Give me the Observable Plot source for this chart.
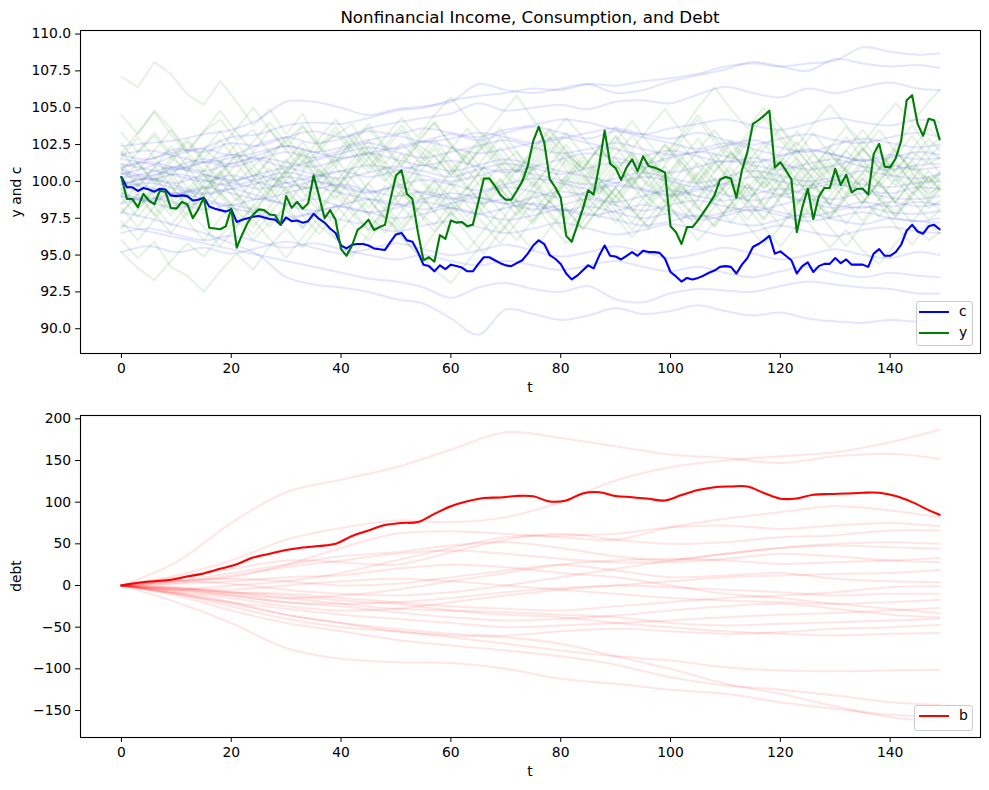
<!DOCTYPE html>
<html><head><meta charset="utf-8">
<script src="https://cdn.jsdelivr.net/npm/d3@7"></script>
<script src="https://cdn.jsdelivr.net/npm/@observablehq/plot@0.6"></script>
<style>
body{margin:0;background:#fff;}
#wrap{position:relative;width:989px;height:790px;overflow:hidden;background:#fff;font-family:"DejaVu Sans",sans-serif;color:#000;}
.t{position:absolute;white-space:nowrap;line-height:1;transform:translate(-50%,-50%);}
.rot{transform:translate(-50%,-50%) rotate(-90deg);}
.lbox{position:absolute;border:1px solid #cccccc;border-radius:3px;background:rgba(255,255,255,0.8);box-sizing:border-box;}
.lline{position:absolute;height:2px;width:29.5px;}
.ltxt{position:absolute;font-size:13.9px;line-height:1;transform:translateY(-50%);}
</style></head>
<body><div id="wrap"></div>
<script>
// ---------- tick labels ----------
const xTicks = [0, 20, 40, 60, 80, 100, 120, 140];
const ycTicks = [90, 92.5, 95, 97.5, 100, 102.5, 105, 107.5, 110];
const debtTicks = [-150, -100, -50, 0, 50, 100, 150, 200];

// ---------- highlighted path (t = 0..149) ----------
const cMain = [
100.3,99.6,99.6,99.35,99.55,99.45,99.3,99.5,99.45,99.05,
99.0,99.05,99.0,98.7,98.75,98.9,98.3,98.15,98.05,97.95,
98.1,97.25,97.4,97.5,97.6,97.65,97.55,97.45,97.4,97.05,
97.55,97.3,97.35,97.2,97.3,97.8,97.45,97.2,96.8,96.5,
95.65,95.45,95.7,95.75,95.75,95.65,95.45,95.4,95.35,95.9,
96.4,96.5,96.0,95.9,95.2,94.35,94.25,93.9,94.3,94.05,
94.35,94.25,94.15,93.9,93.9,94.4,94.85,94.85,94.65,94.45,
94.3,94.25,94.45,94.65,95.1,95.65,96.0,95.75,95.0,94.75,
94.4,93.75,93.35,93.6,93.95,94.3,94.1,94.95,95.65,94.95,
94.9,94.7,94.95,95.2,94.95,95.3,95.2,95.2,95.15,94.75,
93.85,93.55,93.2,93.45,93.35,93.45,93.6,93.8,93.95,94.2,
94.25,94.2,93.75,94.35,94.8,95.55,95.75,96.0,96.3,95.1,
95.25,94.95,94.65,93.75,94.25,94.5,93.85,94.25,94.4,94.4,
94.8,94.45,94.7,94.35,94.35,94.35,94.2,95.1,95.4,94.95,
94.95,95.2,95.7,96.65,97.05,96.6,96.45,96.95,97.05,96.75];

const yMain = [
100.3,98.8,98.8,98.25,99.15,98.7,98.45,99.35,99.3,98.2,
98.15,98.6,98.45,97.5,98.1,98.9,96.85,96.8,96.75,96.95,
98.15,95.5,96.4,97.2,97.75,98.1,98.05,97.75,97.7,97.05,
99.0,98.2,98.6,98.15,98.5,100.4,99.0,97.5,98.05,97.4,
95.4,94.95,95.65,96.7,97.0,97.4,96.7,96.9,97.05,98.8,
100.4,100.75,99.15,98.8,96.55,94.65,94.85,94.55,96.35,96.1,
97.35,97.2,97.25,96.95,97.05,98.6,100.2,100.2,99.7,99.1,
98.75,98.75,99.35,100.0,101.05,102.75,103.7,102.65,100.15,99.6,
98.9,96.3,95.9,97.0,98.1,99.4,99.1,101.05,103.45,101.2,
100.9,100.1,100.95,101.5,100.7,101.7,101.05,100.95,100.8,100.6,
96.95,96.55,95.75,96.9,96.9,97.35,97.9,98.45,99.05,100.1,
100.3,100.2,98.9,100.75,102.0,103.9,104.15,104.45,104.8,100.95,
101.3,100.75,100.15,96.55,98.25,99.5,97.45,98.95,99.55,99.55,
100.85,99.75,100.45,99.25,99.5,99.5,99.1,101.85,102.55,101.0,
100.95,101.55,102.75,105.5,105.85,103.9,103.1,104.25,104.15,102.85];

// debt of highlighted path, read every 3 periods (t = 0,3,...,147,149)
const bMain = [
0,3.3,5.2,6.8,10.8,14.5,20,25.6,33.5,38.2,
42.5,45.5,47.3,50,59.5,66,72.5,75,76.2,86,
95,101,105,105.6,107.5,107,100.8,102,110.5,112,
107.5,106,104,102,108.5,114.5,118,118.8,118.8,111,
104.2,104.5,108.8,109.8,110.4,111.3,111.2,107.3,100,90.5,
84.8];

// ---------- other simulated paths ----------
// consumption paths, read every 5 periods (t = 0,5,...,145,149)
const cPaths = [
[101.0,101.5,102.0,102.3,103.0,103.2,103.8,104.0,103.9,104.3,104.8,105.0,105.5,105.8,106.0,106.3,106.2,106.6,106.5,106.8,107.0,107.3,107.8,108.0,107.8,108.0,108.2,109.1,108.8,108.6,108.7],
[102.4,102.6,102.8,103.2,103.5,104.2,105.4,105.4,105.0,104.5,104.9,105.1,105.4,106.6,106.2,106.0,106.3,106.6,106.0,106.2,106.8,107.2,107.6,108.1,107.8,107.5,108.3,108.0,107.8,107.9,107.7],
[101.8,101.5,102.2,102.0,102.6,102.4,103.0,103.4,103.0,103.6,104.0,104.3,104.6,105.3,104.8,105.0,105.2,104.9,105.4,105.5,105.3,105.9,106.4,106.0,105.7,106.3,106.0,106.4,106.7,106.3,106.2],
[100.5,101.0,101.8,102.2,101.8,102.5,103.0,102.6,102.9,103.4,103.2,103.6,103.3,103.0,103.5,103.8,104.2,104.0,103.5,103.2,103.6,103.9,104.2,103.8,103.5,103.9,104.3,104.0,103.8,104.2,104.0],
[100.8,100.4,101.0,101.5,101.2,101.8,102.4,102.0,102.3,102.8,103.1,102.7,102.9,103.3,103.0,102.6,102.9,103.3,103.6,103.2,102.9,103.3,102.8,102.5,102.9,103.2,102.8,102.6,103.0,103.3,103.0],
[101.5,101.2,100.8,101.3,101.8,101.5,101.0,101.4,101.9,102.3,102.0,101.6,102.0,102.4,102.8,102.3,101.9,102.2,102.6,102.2,101.8,102.0,102.4,102.8,102.3,102.0,102.5,102.9,102.6,102.3,102.5],
[100.2,100.6,101.0,100.7,101.2,101.6,101.3,101.0,101.5,101.9,101.5,101.1,101.4,101.0,100.6,101.0,101.5,101.9,101.6,101.2,101.6,102.0,101.7,101.3,101.7,102.1,101.8,101.4,101.6,102.0,101.8],
[99.8,100.2,99.9,100.4,100.0,100.5,100.9,100.5,100.2,100.6,101.0,100.7,100.3,100.8,101.2,100.9,100.5,100.9,101.3,101.0,100.6,101.0,101.4,101.1,100.8,101.2,101.5,101.0,100.8,101.1,101.2],
[100.5,100.1,100.5,100.1,99.7,100.2,100.6,100.3,100.7,101.1,100.8,100.4,100.0,100.4,100.8,100.5,100.1,99.8,100.2,100.6,100.2,99.9,100.3,100.7,100.4,100.0,100.3,100.7,100.4,100.2,100.5],
[101.2,100.8,100.4,100.0,100.4,99.9,99.6,100.0,99.7,99.3,99.7,100.1,99.8,99.4,99.8,100.2,99.9,99.5,99.9,100.3,100.0,99.6,99.9,100.3,100.0,99.7,100.1,99.8,99.6,99.9,100.0],
[99.5,99.9,99.5,99.1,99.5,99.9,100.3,100.0,99.6,99.2,99.6,99.2,98.8,99.2,99.6,99.3,98.9,99.3,99.7,99.4,99.0,99.4,99.8,99.5,99.1,99.5,99.8,99.4,99.2,99.6,99.5],
[100.0,99.6,99.2,99.6,99.2,98.8,99.2,99.6,99.2,98.8,98.4,98.8,99.2,98.9,98.5,98.9,99.3,99.0,98.6,99.0,99.4,99.0,98.7,99.1,99.5,99.1,98.8,99.2,98.9,98.8,99.0],
[99.2,98.8,99.2,98.8,98.4,98.8,98.4,98.0,98.4,98.8,98.5,98.1,98.5,98.9,98.5,98.1,98.4,98.8,98.4,98.0,98.4,98.7,98.3,98.0,98.4,98.8,98.4,98.2,98.6,98.3,98.5],
[100.6,100.2,99.7,99.2,99.5,99.0,98.5,98.8,98.3,97.9,98.2,98.6,98.2,97.8,98.2,98.5,98.1,97.7,98.0,98.4,98.0,97.6,97.9,98.3,97.9,97.6,98.0,98.3,97.9,97.8,98.0],
[98.5,98.9,98.5,98.1,98.4,98.0,97.6,97.9,98.3,97.9,97.5,97.8,98.2,97.8,97.4,97.7,98.1,97.8,97.4,97.0,97.3,97.7,97.3,97.0,97.4,97.8,97.4,97.1,97.5,97.3,97.5],
[99.0,98.6,98.2,98.6,98.2,97.8,97.4,97.8,97.4,97.0,96.6,97.0,97.3,96.9,96.5,96.8,97.2,96.8,96.4,96.7,97.1,96.7,96.3,96.6,97.0,96.6,96.3,96.7,96.9,96.6,96.5],
[95.2,95.6,95.2,95.5,95.1,95.5,95.9,95.5,95.1,95.4,95.8,95.4,95.0,95.3,95.7,95.3,94.9,95.2,95.6,95.2,94.8,95.1,95.5,95.1,94.7,95.0,95.4,95.0,94.8,95.2,95.0],
[97.9,97.5,97.0,96.5,95.8,95.0,93.5,93.0,92.8,92.5,92.0,91.7,90.7,89.6,91.3,91.0,90.6,90.9,91.4,91.0,91.2,91.6,91.2,90.9,91.1,90.7,90.5,90.4,90.6,90.5,90.8],
[97.0,96.6,96.2,95.8,95.4,95.0,94.6,94.2,93.8,93.4,93.2,92.8,92.1,92.8,93.1,92.7,92.5,92.9,92.0,91.8,92.4,92.7,92.6,92.5,92.9,93.2,93.0,92.8,92.7,92.4,92.4],
[96.5,96.8,96.4,96.0,96.3,95.9,95.5,95.8,95.4,95.0,94.7,95.0,94.6,94.3,94.6,94.3,94.0,94.3,94.6,94.2,93.9,94.2,93.8,93.5,93.9,94.2,93.8,93.5,93.8,93.6,93.5],
[101.8,102.1,101.7,101.3,101.6,102.0,102.4,102.0,101.6,101.9,102.3,102.7,102.3,101.9,102.2,102.6,103.0,102.6,102.2,101.8,102.1,101.7,101.3,101.6,101.2,100.8,101.1,101.5,101.1,100.8,101.0],
[100.9,101.3,100.9,100.5,100.1,100.4,99.9,99.5,99.8,99.4,99.0,99.3,98.9,98.5,98.8,98.4,98.0,98.3,97.9,97.5,97.8,97.4,97.7,98.1,97.7,97.3,97.6,97.9,97.5,97.3,97.2],
[99.8,100.3,100.8,101.3,101.0,101.5,102.0,101.6,102.1,102.6,102.2,102.7,103.2,102.8,103.3,103.7,103.3,102.9,103.4,103.0,102.6,102.2,102.6,102.2,101.8,102.2,101.8,101.4,101.8,101.5,101.6],
[99.0,98.7,99.1,99.5,99.9,99.5,99.9,100.3,100.7,100.3,100.7,101.1,100.7,101.1,101.5,101.1,100.7,100.3,99.9,99.5,99.1,99.5,99.1,98.7,99.0,98.6,98.2,98.6,98.3,98.6,98.4]
];

// income paths, read every 3 periods (t = 0,3,...,147,149)
const yPaths = [
[107.1,106.4,108.1,107.3,105.9,105.2,106.8,105.4,103.8,104.9,103.2,104.6,102.5,103.1,103.9,102.0,101.2,102.6,101.4,100.8,102.3,101.6,99.9,101.1,102.0,100.4,99.8,101.5,100.6,99.2,100.9,101.8,100.2,101.0,99.5,98.9,100.7,101.9,100.8,99.6,100.4,101.6,100.1,99.3,100.9,102.2,101.0,100.3,101.4,100.0,100.5],
[104.5,103.2,104.8,103.6,102.1,103.4,104.2,102.8,103.5,101.9,102.7,103.8,102.4,101.3,102.9,103.6,102.2,101.0,102.5,101.7,100.4,101.8,102.9,101.5,100.6,101.9,103.0,101.8,100.9,102.3,101.1,99.8,101.2,102.5,101.3,100.0,101.6,102.8,101.4,100.2,101.7,100.6,99.4,100.9,102.1,101.0,99.7,100.8,102.0,101.2,101.6],
[103.3,102.0,103.1,101.6,100.7,102.2,101.3,99.9,101.0,102.1,100.5,99.4,100.8,99.6,98.5,99.9,101.0,99.7,98.8,100.1,98.9,97.6,99.0,100.2,98.7,97.9,99.3,100.4,99.2,98.1,99.6,100.9,99.8,98.6,100.0,101.3,100.1,98.9,100.3,101.5,100.4,99.1,100.6,101.9,100.7,99.5,100.8,102.0,100.9,99.8,100.4],
[96.0,94.8,95.9,94.2,93.6,92.5,93.9,95.1,94.0,95.6,96.8,95.5,97.0,96.1,97.6,98.8,97.5,96.6,98.1,99.2,97.9,96.8,98.3,99.5,98.2,97.1,98.7,99.9,98.6,97.5,99.0,100.3,98.9,97.8,99.4,100.6,99.2,98.0,99.5,100.8,99.6,98.3,99.8,101.0,99.7,98.5,100.0,101.2,99.9,98.8,99.5],
[95.2,94.1,93.3,94.6,95.8,94.9,96.3,97.4,96.0,97.2,98.3,96.9,98.0,99.1,97.8,96.7,98.2,99.4,98.0,97.0,98.5,99.6,98.3,97.2,98.8,100.0,98.6,97.5,99.1,100.2,99.0,97.9,99.3,100.5,99.2,98.1,99.7,100.9,99.4,98.2,99.8,101.0,99.6,98.4,99.9,101.1,99.8,98.6,100.1,99.2,99.6],
[101.2,99.8,100.9,102.4,101.0,99.5,100.6,101.9,100.3,101.5,103.0,101.6,100.1,101.3,102.7,101.2,100.0,101.4,102.8,104.0,102.5,101.1,102.4,103.6,102.0,100.7,101.9,103.3,101.8,100.5,101.8,103.1,101.6,100.2,101.5,102.9,101.4,100.1,101.3,102.6,101.0,99.7,101.0,102.3,100.8,99.5,100.9,102.2,100.6,99.4,100.2],
[99.4,98.1,99.5,100.6,99.0,97.8,99.2,98.0,96.9,98.3,99.6,98.2,97.0,98.4,97.1,96.0,97.5,96.2,95.1,94.0,93.1,94.5,95.9,97.2,96.0,97.4,98.7,97.3,98.6,99.8,98.4,97.2,98.7,99.9,98.5,97.3,98.8,100.0,98.6,97.4,98.9,100.1,98.7,97.5,99.0,100.2,98.8,97.6,99.1,100.3,99.4],
[98.5,99.8,98.3,97.0,98.4,99.7,98.2,96.9,98.3,99.6,98.0,96.8,98.2,99.5,98.1,96.7,98.0,99.3,97.9,96.6,97.9,99.2,97.8,96.5,97.8,99.1,97.7,96.4,97.7,99.0,97.6,96.2,97.5,98.8,97.3,96.0,97.2,98.5,97.0,95.7,96.9,98.2,96.8,95.5,96.7,95.3,94.4,95.8,97.1,96.0,96.5],
[100.0,101.3,100.0,101.6,102.9,101.5,102.8,101.4,102.7,104.0,102.6,101.3,102.9,104.2,102.8,101.6,103.0,104.3,103.0,104.5,105.7,104.3,103.0,104.5,105.8,104.2,102.9,104.3,103.0,101.7,103.1,101.8,100.5,101.9,103.2,101.8,100.6,102.0,100.7,99.5,100.9,102.2,100.8,99.6,101.0,102.3,100.9,99.7,101.1,100.0,100.6],
[99.6,98.3,99.7,101.0,99.6,98.4,99.9,101.2,99.8,98.6,100.1,101.4,100.0,98.8,100.3,101.6,100.2,99.0,100.5,101.8,100.4,101.9,103.2,101.8,100.6,102.1,103.4,102.0,100.8,102.3,103.7,102.2,103.6,104.9,103.4,105.0,106.4,104.9,103.6,105.0,103.7,102.4,103.9,105.2,103.8,102.6,104.0,105.3,104.0,105.4,106.2],
[97.8,99.1,100.3,98.9,97.7,99.2,100.5,99.1,97.8,99.3,100.6,102.0,100.6,99.3,100.8,102.1,100.7,99.4,100.9,102.2,100.8,99.5,101.0,102.3,100.9,99.6,101.1,102.5,101.0,99.7,98.4,99.8,101.2,99.8,98.5,100.0,101.3,99.9,98.6,100.1,101.5,100.1,98.8,97.5,98.9,100.2,98.8,97.6,99.0,100.3,99.5],
[102.6,101.2,99.9,101.3,102.7,101.3,100.0,98.7,100.1,101.5,100.0,98.7,100.2,101.6,100.1,98.8,97.5,98.9,100.3,98.9,97.6,99.0,100.4,99.0,97.7,99.1,100.5,101.9,100.4,99.1,100.6,102.0,100.5,99.2,100.7,102.1,103.5,102.0,100.7,102.2,103.6,102.1,100.8,102.3,103.7,102.2,100.9,102.4,103.8,102.3,102.9],
[100.7,102.0,103.3,101.9,100.6,102.1,103.4,102.0,100.7,99.4,100.8,102.2,100.8,99.5,101.0,102.4,100.9,99.6,101.1,102.5,101.0,99.7,98.4,99.8,101.2,99.8,98.5,100.0,101.4,99.9,98.6,100.1,101.5,100.0,98.7,97.4,98.8,100.2,98.8,97.5,99.0,100.4,99.0,97.7,99.2,100.6,99.1,97.8,99.3,98.2,98.7],
[98.9,97.6,98.9,100.2,98.8,100.1,101.4,100.0,98.7,100.2,101.5,100.1,98.8,100.3,99.0,97.7,99.2,100.6,99.2,97.9,99.4,100.8,99.3,98.0,99.5,100.9,99.4,98.1,96.8,98.2,99.6,98.1,96.9,98.4,99.8,98.3,97.0,98.5,99.9,98.4,99.9,101.3,99.8,98.5,100.0,101.4,99.9,98.6,100.1,101.5,100.6],
[101.6,103.0,101.6,100.3,101.7,100.4,99.1,100.5,101.9,100.5,99.2,100.6,102.0,103.4,101.9,100.6,102.1,103.5,102.0,100.7,102.2,103.6,102.1,100.8,99.5,100.9,102.3,100.8,99.5,101.0,102.4,100.9,99.6,101.1,102.5,101.0,99.7,101.2,102.6,101.1,99.8,98.5,99.9,101.3,99.8,98.5,100.0,101.4,99.9,98.6,99.4],
[97.3,96.0,97.4,98.8,97.3,96.0,97.5,98.9,97.4,96.1,94.8,96.2,97.6,96.1,94.9,96.4,97.8,96.3,95.0,96.5,97.9,96.4,95.1,96.6,98.0,99.4,97.9,96.6,98.1,99.5,98.0,96.7,98.2,99.6,98.1,96.8,98.3,99.7,98.2,96.9,95.6,97.0,98.4,96.9,95.6,97.1,98.5,97.0,95.7,97.2,96.5],
[100.3,99.0,97.7,99.1,100.5,99.0,100.4,101.8,100.3,99.0,100.5,101.9,100.4,101.8,103.2,101.7,100.4,101.9,100.5,99.2,100.7,102.1,100.6,99.3,100.8,102.2,103.6,102.1,100.8,102.3,100.9,99.6,101.1,102.5,101.0,99.7,101.2,102.6,101.1,99.8,101.3,102.7,101.2,99.9,101.4,102.8,101.3,100.0,101.5,102.9,102.1],
[96.8,98.1,99.4,98.0,99.4,100.8,99.3,98.0,99.5,100.9,99.4,98.1,99.6,101.0,99.5,98.2,99.7,98.3,97.0,98.5,99.9,98.4,97.1,95.8,97.2,98.6,97.1,95.8,97.3,98.7,97.2,98.7,100.1,98.6,97.3,98.8,100.2,98.7,97.4,98.9,100.3,98.8,97.5,99.0,100.4,98.9,97.6,99.1,100.5,99.0,99.8],
[102.0,100.7,102.1,103.5,102.0,100.7,102.2,103.6,105.0,103.5,102.2,103.7,102.3,101.0,102.5,103.9,102.4,101.1,102.6,104.0,102.5,101.2,102.7,101.3,100.0,101.5,102.9,101.4,100.1,101.6,103.0,101.5,100.2,101.7,103.1,104.5,103.0,101.7,103.2,104.6,103.1,101.8,103.3,101.9,100.6,102.1,103.5,102.0,100.7,102.2,101.5],
[99.1,100.4,99.0,97.7,99.1,100.5,99.0,97.7,96.4,97.8,99.2,97.7,96.4,97.9,99.3,97.8,96.5,98.0,99.4,97.9,96.6,95.3,96.7,98.1,96.6,95.3,96.8,98.2,96.7,98.2,99.6,98.1,96.8,98.3,99.7,98.2,96.9,98.4,99.8,98.3,97.0,98.5,99.9,98.4,97.1,98.6,100.0,98.5,97.2,98.7,98.1],
[101.9,103.3,104.7,103.2,101.9,103.4,104.8,103.3,102.0,103.5,102.1,100.8,102.3,103.7,102.2,100.9,102.4,103.8,102.3,101.0,99.7,101.1,102.5,101.0,99.7,101.2,102.6,101.1,99.8,101.3,102.7,104.1,102.6,101.3,102.8,104.2,102.7,101.4,102.9,104.3,102.8,101.5,100.2,101.6,103.0,101.5,100.2,101.7,103.1,101.6,102.4],
[97.9,99.2,97.8,96.5,97.9,99.3,100.7,99.2,97.9,99.4,100.8,99.3,98.0,99.5,100.9,99.4,98.1,96.8,98.2,99.6,98.1,99.6,101.0,99.5,98.2,99.7,101.1,99.6,98.3,99.8,101.2,99.7,98.4,99.9,101.3,99.8,98.5,97.2,98.6,100.0,98.5,97.2,98.7,100.1,98.6,97.3,98.8,100.2,98.7,97.4,98.0],
[100.9,99.6,101.0,99.7,98.4,99.8,101.2,102.6,101.1,99.8,101.3,102.7,101.2,99.9,101.4,102.8,101.3,100.0,101.5,102.9,101.4,100.1,101.6,103.0,101.5,100.2,98.9,100.3,101.7,100.2,98.9,100.4,101.8,100.3,99.0,100.5,101.9,100.4,99.1,100.6,102.0,103.4,101.9,100.6,102.1,103.5,102.0,100.7,102.2,103.6,103.0],
[98.2,96.9,98.3,99.7,98.2,96.9,95.6,97.0,98.4,96.9,98.4,99.8,98.3,97.0,98.5,99.9,98.4,97.1,98.6,100.0,98.5,97.2,98.7,100.1,98.6,97.3,98.8,100.2,98.7,100.2,101.6,100.1,98.8,100.3,101.7,100.2,98.9,100.4,101.8,100.3,99.0,100.5,101.9,100.4,99.1,100.6,102.0,100.5,99.2,100.7,100.0]
];

// debt paths, read every 10 periods (t = 0,10,...,140,149)
const bPaths = [
[0,28,75,112,127,142,163,184,177,167,157,153,147,155,158,152],
[0,12,30,55,69,78,76,82,100,126,142,150,155,160,172,187],
[0,6,10,25,45,62,65,62,58,55,70,80,88,95,90,82],
[0,-5,0,5,15,30,45,58,60,62,70,72,68,72,75,71],
[0,10,20,30,28,25,40,55,62,55,50,52,58,60,66,66],
[0,5,15,25,35,40,48,52,45,35,30,38,45,48,46,44],
[0,-3,-10,-15,-12,-5,5,15,25,30,32,30,26,28,30,33],
[0,-8,-15,-25,-30,-28,-20,-12,-5,0,5,10,12,14,15,19],
[0,5,8,5,0,2,10,18,25,18,10,12,15,8,5,4],
[0,-5,-8,-10,-15,-20,-25,-28,-30,-25,-20,-15,-12,-8,-2,-1],
[0,-3,-5,0,5,8,5,0,-5,-10,-15,-18,-20,-22,-20,-17],
[0,-10,-20,-28,-35,-40,-45,-50,-48,-45,-42,-38,-35,-33,-30,-27],
[0,2,5,10,12,20,25,22,15,10,0,-10,-15,-22,-28,-33],
[0,-6,-12,-20,-25,-32,-38,-42,-40,-36,-30,-25,-22,-28,-35,-38],
[0,-8,-20,-35,-45,-52,-58,-60,-55,-52,-55,-58,-56,-52,-50,-47],
[0,-4,-8,-12,-18,-22,-30,-35,-38,-45,-50,-55,-58,-60,-58,-57],
[0,-10,-25,-40,-50,-55,-62,-70,-78,-85,-90,-98,-102,-103,-102,-101],
[0,-12,-30,-45,-55,-65,-72,-78,-85,-95,-110,-120,-125,-132,-140,-143],
[0,-20,-45,-75,-88,-92,-93,-100,-112,-118,-125,-130,-140,-148,-155,-157],
[0,-10,-22,-35,-45,-55,-60,-62,-70,-85,-100,-118,-130,-145,-158,-163],
[0,3,12,22,30,38,42,38,32,28,28,32,38,35,30,28],
[0,-5,-12,-20,-22,-20,-15,-8,-3,0,-2,-5,-8,-12,-10,-10],
[0,-2,-8,-15,-22,-28,-30,-32,-35,-38,-45,-48,-46,-44,-42,-40],
[0,5,2,-5,-10,-12,-8,0,10,20,30,38,45,50,52,50]
];

// ---------- build tidy tables ----------
const T_LAST = 149;
function tidy(paths, step, offset = 0) {
  const out = [];
  const n = Math.ceil(T_LAST / step) + 1;
  paths.forEach((p, k) => p.slice(0, n).forEach((v, i) => out.push({k: k + offset, t: Math.min(i * step, T_LAST), v})));
  return out;
}
const cMainT = tidy([cMain], 1);
const yMainT = tidy([yMain], 1);
const bMainT = tidy([bMain], 3);
const cFaint = cMainT.concat(tidy(cPaths, 5, 1));
const yFaint = yMainT.concat(tidy(yPaths, 3, 1));
const bFaint = bMainT.concat(tidy(bPaths, 10, 1));

const BLUE = "#0000ff", GREEN = "#008000", RED = "#ff0000";
const LW = 2.08;
const common = {
  width: 989, marginLeft: 80, marginRight: 9,
  x: {domain: [-7.45, 156.45]},
  style: {fontFamily: "DejaVu Sans", fontSize: "13.9px", color: "black", background: "transparent", overflow: "visible"}
};
const axX = Plot.axisX({ticks: xTicks, tickFormat: d3.format("d"), tickSize: 4.9, tickPadding: 4.4, label: null, fontSize: 13.9});

const plotTop = Plot.plot({
  ...common, height: 400, marginTop: 30, marginBottom: 47,
  y: {domain: [88.32, 110.24]},
  marks: [
    Plot.line(cMainT, {x: "t", y: "v", stroke: BLUE, strokeWidth: LW}),
    Plot.line(yMainT, {x: "t", y: "v", stroke: GREEN, strokeWidth: LW}),
    Plot.line(cFaint, {x: "t", y: "v", z: "k", stroke: BLUE, strokeOpacity: 0.1, strokeWidth: LW, curve: "catmull-rom"}),
    Plot.line(yFaint, {x: "t", y: "v", z: "k", stroke: GREEN, strokeOpacity: 0.1, strokeWidth: LW}),
    Plot.frame({stroke: "black", strokeWidth: 1.1}),
    axX,
    Plot.axisY({ticks: ycTicks, tickFormat: d3.format(".1f"), tickSize: 4.9, tickPadding: 4.4, label: null, fontSize: 13.9})
  ]
});

const plotBottom = Plot.plot({
  ...common, height: 390, marginTop: 15, marginBottom: 53,
  y: {domain: [-182.4, 204]},
  marks: [
    Plot.line(bMainT, {x: "t", y: "v", stroke: RED, strokeWidth: LW, curve: "catmull-rom"}),
    Plot.line(bFaint, {x: "t", y: "v", z: "k", stroke: RED, strokeOpacity: 0.1, strokeWidth: LW, curve: "catmull-rom"}),
    Plot.frame({stroke: "black", strokeWidth: 1.1}),
    axX,
    Plot.axisY({ticks: debtTicks, tickFormat: d3.format("d"), tickSize: 4.9, tickPadding: 4.4, label: null, fontSize: 13.9})
  ]
});

const wrap = document.getElementById("wrap");
for (const [svg, y] of [[plotTop, 0], [plotBottom, 400]]) {
  svg.style.position = "absolute";
  svg.style.left = "0px";
  svg.style.top = y + "px";
  wrap.appendChild(svg);
}

function addText(txt, x, y, size, cls = "t") {
  const d = document.createElement("div");
  d.className = cls;
  d.textContent = txt;
  d.style.left = x + "px";
  d.style.top = y + "px";
  d.style.fontSize = size + "px";
  wrap.appendChild(d);
}
addText("Nonfinancial Income, Consumption, and Debt", 530, 17, 16.7);
addText("y and c", 17, 191.5, 13.9, "t rot");
addText("t", 530, 388, 13.9);
addText("debt", 17, 576, 13.9, "t rot");
addText("t", 530, 772, 13.9);

function legend(x, y, w, h, items) {
  const box = document.createElement("div");
  box.className = "lbox";
  Object.assign(box.style, {left: x + "px", top: y + "px", width: w + "px", height: h + "px"});
  wrap.appendChild(box);
  for (const [name, color, cy] of items) {
    const l = document.createElement("div");
    l.className = "lline";
    Object.assign(l.style, {left: "919.3px", top: (cy - 1) + "px", background: color});
    wrap.appendChild(l);
    const s = document.createElement("div");
    s.className = "ltxt";
    s.textContent = name;
    Object.assign(s.style, {left: "959px", top: cy + "px"});
    wrap.appendChild(s);
  }
}
legend(915.5, 300.7, 57.8, 45.3, [["c", BLUE, 312], ["y", GREEN, 332.7]]);
legend(914.3, 705, 59, 25.7, [["b", RED, 715.7]]);
</script>
</body></html>
